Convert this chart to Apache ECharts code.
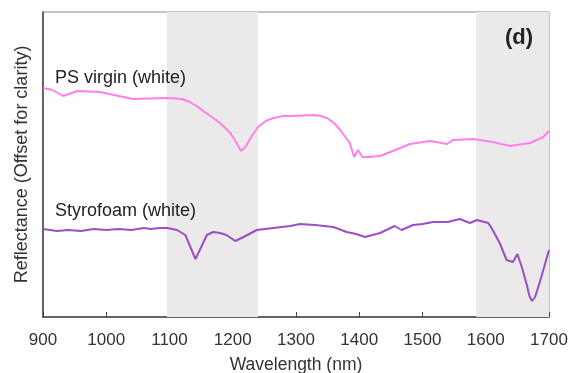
<!DOCTYPE html>
<html>
<head>
<meta charset="utf-8">
<script src="https://cdn.jsdelivr.net/npm/echarts@6/dist/echarts.min.js"></script>
<style>
  html, body { margin: 0; padding: 0; background: #fff; }
  #main { width: 571px; height: 373px; }
</style>
</head>
<body>
<div id="main"></div>
<script>
// wavelength (nm) / reflectance in arbitrary offset units
const psWavelength = [900, 915, 932, 954, 990, 1042, 1096, 1120, 1132, 1145, 1153, 1160, 1169, 1180, 1196, 1206, 1213, 1220, 1230, 1240, 1252, 1264, 1280, 1291, 1327, 1340, 1349, 1360, 1370, 1385, 1392, 1398, 1405, 1414, 1433, 1453, 1480, 1512, 1539, 1548, 1580, 1611, 1638, 1670, 1691, 1700];
const psValues = [229, 227, 221, 226, 225, 218, 219, 218, 215, 210, 206, 203, 199, 194, 184, 174, 166, 170, 181, 190, 196, 199, 201, 201, 202, 201, 199, 194, 187, 174, 160, 167, 160, 160, 161, 166, 173, 176, 173, 177, 178, 175, 171, 174, 180, 186];

const styroWavelength = [900, 922, 940, 960, 980, 1000, 1020, 1040, 1060, 1070, 1085, 1096, 1112, 1125, 1135, 1141, 1148, 1159, 1169, 1180, 1190, 1204, 1217, 1238, 1264, 1291, 1306, 1330, 1359, 1380, 1395, 1409, 1433, 1456, 1467, 1485, 1500, 1517, 1540, 1559, 1575, 1586, 1604, 1611, 1622, 1633, 1643, 1650, 1657, 1665, 1669, 1673, 1678, 1685, 1691, 1700];
const styroValues = [88, 86, 87, 86, 88, 87, 88, 87, 89, 88, 89, 89, 87, 82, 67, 58, 67, 82, 85, 84, 82, 76, 80, 87, 89, 91, 93, 92, 90, 85, 83, 80, 84, 91, 87, 92, 93, 95, 95, 98, 94, 97, 94, 87, 74, 57, 55, 63, 50, 32, 21, 16, 20, 34, 47, 67];

const shadedRanges = [[1096, 1240], [1585, 1700]];
const xTicks = [900, 1000, 1100, 1200, 1300, 1400, 1500, 1600, 1700];

const chart = echarts.init(document.getElementById('main'));

const font = 'Liberation Sans, Arial, sans-serif';

const option = {
  animation: false,
  grid: {
    left: 43, right: 22, top: 12, bottom: 56,
    outerBoundsMode: 'none',
    containLabel: false,
    show: true, borderColor: '#888', borderWidth: 1
  },
  xAxis: {
    type: 'value',
    min: xTicks[0],
    max: xTicks[xTicks.length - 1],
    interval: 100,
    name: 'Wavelength (nm)',
    nameLocation: 'middle',
    nameGap: 39,
    nameTextStyle: { fontFamily: font, fontSize: 17.5, color: '#333' },
    axisLine: { lineStyle: { color: '#444', width: 1.5 } },
    axisTick: { inside: true, length: 5, lineStyle: { color: '#444' } },
    axisLabel: { fontFamily: font, fontSize: 17, color: '#333', margin: 15, formatter: v => String(v) },
    splitLine: { show: false }
  },
  yAxis: {
    type: 'value',
    min: 0,
    max: 305,
    name: 'Reflectance (Offset for clarity)',
    nameLocation: 'middle',
    nameGap: 12,
    nameTextStyle: { fontFamily: font, fontSize: 18, color: '#333' },
    axisLine: { show: true, lineStyle: { color: '#444', width: 1.5 } },
    axisTick: { show: false },
    axisLabel: { show: false },
    splitLine: { show: false }
  },
  series: [
    {
      name: 'PS virgin (white)',
      type: 'line',
      data: psWavelength.map((w, i) => [w, psValues[i]]),
      showSymbol: false,
      smooth: false,
      lineStyle: { color: '#ff80e8', width: 2 },
      z: 3,
      markArea: {
        silent: true,
        itemStyle: { color: '#ebe9ea' },
        data: shadedRanges.map(r => [{ xAxis: r[0] }, { xAxis: r[1] }])
      }
    },
    {
      name: 'Styrofoam (white)',
      type: 'line',
      data: styroWavelength.map((w, i) => [w, styroValues[i]]),
      showSymbol: false,
      smooth: false,
      lineStyle: { color: '#9a4fc4', width: 2 },
      z: 3
    }
  ],
  graphic: [
    { type: 'text', z: 100, left: 55, top: 69, style: { text: 'PS virgin (white)', font: '18px ' + font, fill: '#222' } },
    { type: 'text', z: 100, left: 55, top: 202, style: { text: 'Styrofoam (white)', font: '18px ' + font, fill: '#222' } },
    { type: 'text', z: 100, left: 505, top: 27, style: { text: '(d)', font: 'bold 22px ' + font, fill: '#222' } }
  ]
};

chart.setOption(option);
</script>
</body>
</html>
